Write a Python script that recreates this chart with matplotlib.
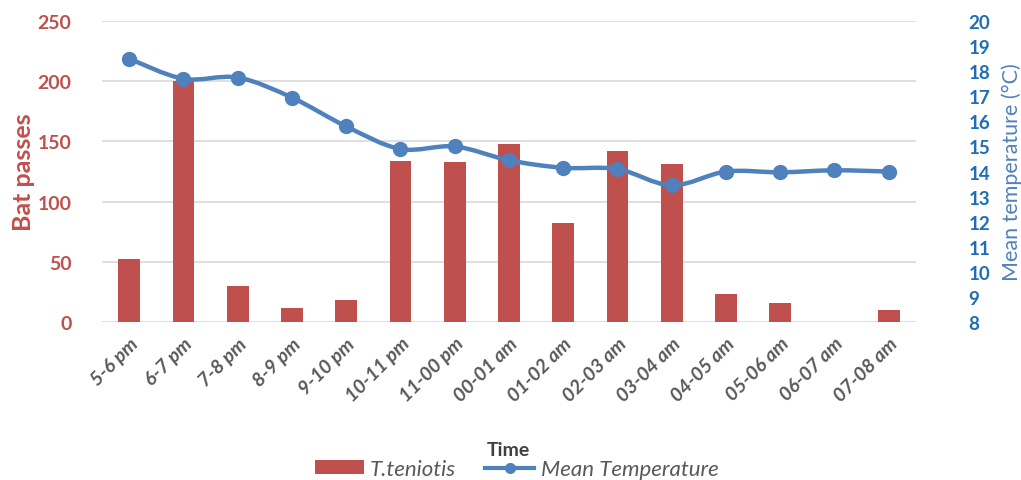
import matplotlib.pyplot as plt
import numpy as np
from matplotlib.path import Path
from matplotlib.patches import PathPatch
from matplotlib.lines import Line2D
from matplotlib.patches import Patch

plt.rcParams['font.family'] = ['Lato', 'DejaVu Sans']

# Hourly bat passes and mean temperature
hours = ["5-6 pm", "6-7 pm", "7-8 pm", "8-9 pm", "9-10 pm", "10-11 pm", "11-00 pm",
         "00-01 am", "01-02 am", "02-03 am", "03-04 am", "04-05 am", "05-06 am",
         "06-07 am", "07-08 am"]
bat_passes = [52, 200, 30, 12, 18, 134, 133, 148, 82, 142, 131, 23, 16, 0, 10]
mean_temp = [18.5, 17.7, 17.75, 16.95, 15.8, 14.9, 15.0, 14.45, 14.15, 14.1,
             13.45, 14.0, 13.97, 14.05, 14.0]

red = "#C0504D"
blue = "#4F81BD"
red_txt = "#C0504D"
blue_txt = "#1F6DB5"


def smooth_path(x, y, t=1/6):
    # Catmull-Rom style bezier through the points
    pts = np.column_stack([x, y]).astype(float)
    verts = [pts[0]]
    codes = [Path.MOVETO]
    n = len(pts)
    for i in range(n - 1):
        p0 = pts[max(i - 1, 0)]
        p1 = pts[i]
        p2 = pts[i + 1]
        p3 = pts[min(i + 2, n - 1)]
        c1 = p1 + (p2 - p0) * t
        c2 = p2 - (p3 - p1) * t
        verts += [c1, c2, p2]
        codes += [Path.CURVE4] * 3
    return Path(verts, codes)


fig = plt.figure(figsize=(10.21, 4.81), dpi=100)
ax = fig.add_axes([0.1, 0.3285, 0.797, 0.6255])
ax2 = ax.twinx()

x = np.arange(len(hours))
ax.bar(x, bat_passes, width=0.4, color=red, zorder=2)
ax.set_ylim(0, 250)
ax.set_yticks(range(0, 251, 50))
ax.set_xlim(-0.5, len(hours) - 0.5)
ax.yaxis.grid(True, color="#D9D9D9", linewidth=1.2, zorder=0)
ax.set_axisbelow(True)
for s in ax.spines.values():
    s.set_visible(False)
for s in ax2.spines.values():
    s.set_visible(False)
ax.tick_params(axis="both", length=0)
ax.tick_params(axis="y", labelsize=14, labelcolor=red_txt, pad=22)
for lab in ax.get_yticklabels():
    lab.set_fontweight("bold")
ax.set_xticks(x)
ax.set_xticklabels(hours, rotation=45, ha="right", rotation_mode="anchor",
                   fontsize=14, fontstyle="italic", fontweight="bold", color="#595959")
ax.tick_params(axis="x", pad=9)
ax.set_ylabel("Bat passes", fontsize=18, fontweight="bold", color=red_txt, labelpad=2)

ax2.set_ylim(8, 20)
ax2.set_yticks(range(8, 21))
ax2.tick_params(axis="y", length=0, labelsize=13.5, labelcolor=blue_txt, pad=38)
for lab in ax2.get_yticklabels():
    lab.set_fontweight("bold")
ax2.set_ylabel("Mean temperature (°C)", fontsize=15.5, color=blue, labelpad=8)
ax2.add_patch(PathPatch(smooth_path(x, mean_temp), facecolor="none",
                        edgecolor=blue, linewidth=3.2, zorder=3))
ax2.plot(x, mean_temp, linestyle="none", marker="o", markersize=10,
         color=blue, zorder=4)

fig.text(0.4975, 1 - 451 / 481, "Time", ha="center", va="center",
         fontsize=14, fontweight="bold", color="#404040")

handles = [Patch(facecolor=red), Line2D([0], [0], color=blue, lw=3, marker="o", markersize=7)]
fig.legend(handles, ["T.teniotis", "Mean Temperature"], loc="center",
           bbox_to_anchor=(0.506, 1 - 470 / 481), ncol=2, frameon=False,
           prop={"style": "italic", "size": 16}, handlelength=2.2, handleheight=0.6,
           handletextpad=0.3, columnspacing=1.3, borderpad=0)
for t in fig.legends[0].get_texts():
    t.set_color("#595959")

fig.savefig("out.png", dpi=100)
